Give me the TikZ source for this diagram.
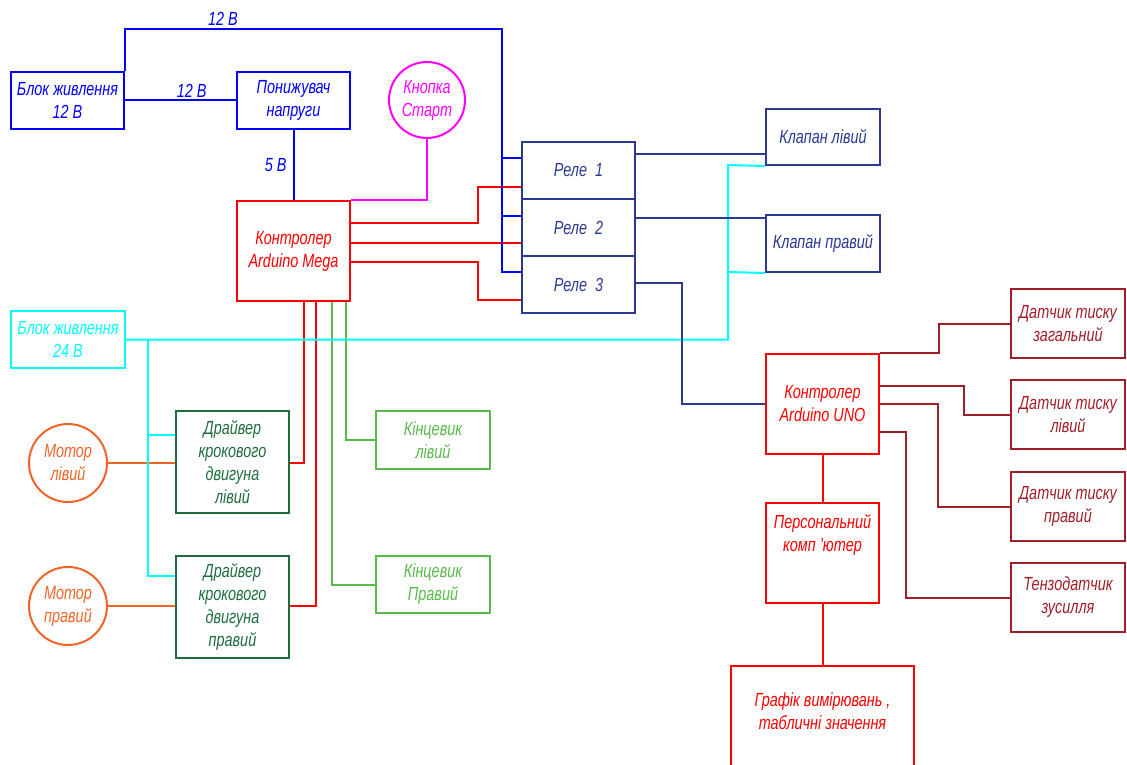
\documentclass[tikz,border=0pt]{standalone}
\usepackage{fontspec}
\setmainfont{Liberation Sans}[FakeStretch=0.76]
\usetikzlibrary{calc}
\definecolor{pblue}{RGB}{0,0,255}
\definecolor{navy}{RGB}{43,57,144}
\definecolor{pred}{RGB}{255,0,0}
\definecolor{pmag}{RGB}{255,0,255}
\definecolor{pcyan}{RGB}{0,255,255}
\definecolor{dgreen}{RGB}{30,110,60}
\definecolor{lgreen}{RGB}{90,185,75}
\definecolor{porange}{RGB}{240,100,40}
\definecolor{dred}{RGB}{160,30,40}
\tikzset{
  lbl/.style={font=\fontsize{19}{23}\selectfont\itshape, align=center, inner sep=0pt},
  box/.style={lbl, draw, rectangle, line width=2pt},
  circ/.style={lbl, draw, circle, line width=2pt, minimum size=78pt},
  wire/.style={line width=2pt},
}
\begin{document}
\begin{tikzpicture}[x=1pt,y=-1pt]
\useasboundingbox (0,0) rectangle (1127,765);

% ---------- nodes ----------
\node[box, pblue, minimum width=113, minimum height=57] (psu12) at (67.5,100.5) {Блок живлення\\12 В};
\node[box, pblue, minimum width=113, minimum height=57] (pon) at (293.5,100.5) {Понижувач\\напруги};
\node[circ, pmag, minimum size=76pt] (start) at (427,100) {Кнопка\\Старт};
\node[box, pred, minimum width=113, minimum height=100] (mega) at (293.5,251) {Контролер\\Arduino Mega};

\node[box, navy, minimum width=113, minimum height=57] (r1) at (578.5,170.5) {Реле\ \ 1};
\node[box, navy, minimum width=113, minimum height=57] (r2) at (578.5,227.5) {Реле\ \ 2};
\node[box, navy, minimum width=113, minimum height=57] (r3) at (578.5,284.5) {Реле\ \ 3};

\node[box, navy, minimum width=114, minimum height=56] (kl) at (823,137) {Клапан лівий};
\node[box, navy, minimum width=114, minimum height=57] (kr) at (823,243.5) {Клапан правий};

\node[box, pcyan, minimum width=114, minimum height=57] (psu24) at (68,339.5) {Блок живлення\\24 В};

\node[box, dgreen, minimum width=113, minimum height=102] (drv1) at (232.5,462) {Драйвер\\крокового\\двигуна\\лівий};
\node[box, dgreen, minimum width=113, minimum height=102] (drv2) at (232.5,607) {Драйвер\\крокового\\двигуна\\правий};

\node[circ, porange] (ml) at (68,463) {Мотор\\лівий};
\node[circ, porange] (mr) at (68,606) {Мотор\\правий};

\node[box, lgreen, minimum width=114, minimum height=58] (kinl) at (433,440) {Кінцевик\\лівий};
\node[box, lgreen, minimum width=114, minimum height=57] (kinr) at (433,584.5) {Кінцевик\\Правий};

\node[box, pred, minimum width=113, minimum height=100] (uno) at (822.5,404) {Контролер\\Arduino UNO};
\node[box, pred, minimum width=113, minimum height=100] (pc) at (822.5,553) {Персональний\\комп 'ютер\\[18pt]};
\node[box, pred, minimum width=183, minimum height=102] (graph) at (822.5,717) {};
\node[lbl, pred] (graphtxt) at (822.5,711) {Графік вимірювань ,\\табличні значення};

\node[box, dred, minimum width=114, minimum height=69] (s1) at (1068,323.5) {Датчик тиску\\загальний};
\node[box, dred, minimum width=114, minimum height=69] (s2) at (1068,414.5) {Датчик тиску\\лівий};
\node[box, dred, minimum width=114, minimum height=69] (s3) at (1068,506.5) {Датчик тиску\\правий};
\node[box, dred, minimum width=114, minimum height=69] (s4) at (1068,597.5) {Тензодатчик\\зусилля};

% ---------- red wires ----------
\draw[wire, pred] (mega.east |- 0,223) -| (478,187) -- (r1.west |- 0,187);
\draw[wire, pred] (mega.east |- 0,243) -- (r2.west |- 0,243);
\draw[wire, pred] (mega.east |- 0,262) -| (478,300) -- (r3.west |- 0,300);
\draw[wire, pred] (mega.south -| 304,0) |- (drv1.east |- 0,463);
\draw[wire, pred] (mega.south -| 316,0) |- (drv2.east |- 0,606);
\draw[wire, pred] (uno.south) -- (pc.north);
\draw[wire, pred] (pc.south) -- (graph.north);

% ---------- green wires ----------
\draw[wire, lgreen] (mega.south -| 332,0) |- (kinr.west);
\draw[wire, lgreen] (mega.south -| 346,0) |- (kinl.west);

% ---------- orange wires ----------
\draw[wire, porange] (ml.east) -- (ml.east -| drv1.west);
\draw[wire, porange] (mr.east) -- (mr.east -| drv2.west);

% ---------- magenta ----------
\draw[wire, pmag] (mega.north east) -| (start.south);

% ---------- cyan wires ----------
\draw[wire, pcyan] (psu24.east) -| (728,165) -- (kl.south west);
\draw[wire, pcyan] (728,272) -- (kr.south west);
\draw[wire, pcyan] (148,339.5) |- (drv2.west |- 0,576);
\draw[wire, pcyan] (148,435) -- (drv1.west |- 0,435);

% ---------- navy wires ----------
\draw[wire, navy] (r1.east |- 0,154) -- (kl.west |- 0,154);
\draw[wire, navy] (r2.east |- 0,218) -- (kr.west |- 0,218);
\draw[wire, navy] (r3.east |- 0,283) -| (682,404) -- (uno.west);

% ---------- dark red wires ----------
\draw[wire, dred] (uno.north east) -| (939,323.5) -- (s1.west);
\draw[wire, dred] (uno.east |- 0,386) -| (964,414.5) -- (s2.west);
\draw[wire, dred] (uno.east |- 0,404) -| (938,506.5) -- (s3.west);
\draw[wire, dred] (uno.east |- 0,432) -| (906,597.5) -- (s4.west);

% ---------- blue wires ----------
\draw[wire, pblue] (psu12.east) -- node[lbl, above=2pt, pos=0.6] (l12b) {12 В} (pon.west);
\draw[wire, pblue] (pon.south) -- node[lbl, left=6pt, pos=0.5] (l5) {5 В} (mega.north);
\draw[wire, pblue] (psu12.north east) |- node[lbl, above=2pt, pos=0.63] (l12a) {12 В} (502,29) -- (502,272) -- (r3.west |- 0,272);
\draw[wire, pblue] (502,158) -- (r1.west |- 0,158);
\draw[wire, pblue] (502,216) -- (r2.west |- 0,216);
\end{tikzpicture}
\end{document}
